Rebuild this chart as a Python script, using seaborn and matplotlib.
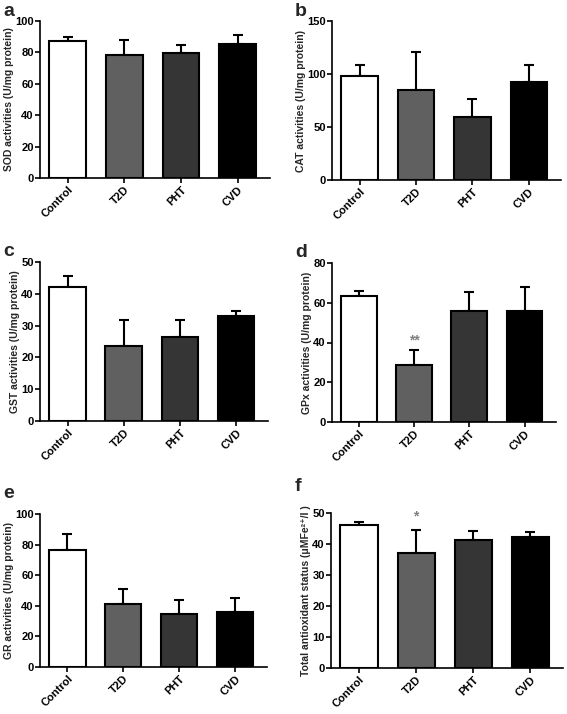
import matplotlib
matplotlib.use('Agg')
import matplotlib.pyplot as plt
import seaborn as sns
import numpy as np

groups = ['Control', 'T2D', 'PHT', 'CVD']
bar_colors = ['#ffffff', '#606060', '#353535', '#000000']

sod_mean = [87.1, 78.6, 79.3, 85.6]
sod_err = [2.7, 9.6, 5.5, 5.7]
cat_mean = [98.2, 85.3, 59.3, 92.6]
cat_err = [10.4, 35.2, 17.3, 16.3]
gst_mean = [42.0, 23.7, 26.5, 32.9]
gst_err = [3.6, 8.1, 5.2, 1.6]
gpx_mean = [63.6, 28.8, 55.8, 55.6]
gpx_err = [2.2, 7.3, 9.8, 12.5]
gr_mean = [76.6, 41.3, 34.9, 35.8]
gr_err = [10.1, 9.8, 9.0, 9.6]
tas_mean = [46.2, 37.0, 41.2, 42.4]
tas_err = [0.8, 7.6, 3.1, 1.4]

sns.set_theme(style='ticks')
plt.rcParams['font.family'] = ['Liberation Sans', 'DejaVu Sans']
plt.rcParams['font.weight'] = 'bold'

fig = plt.figure(figsize=(5.67, 7.14), dpi=100)
W, H = 567, 714

def make_ax(l, r, t, b):
    return fig.add_axes([l / W, 1 - b / H, (r - l) / W, (b - t) / H])

panels = [
    # letter, label, mean, err, ymax, step, box(l,r,t,b), letter pos, star
    ('a', 'SOD activities (U/mg protein)', sod_mean, sod_err, 100, 20, (40, 270, 21, 178), (3, 16), None),
    ('b', 'CAT activities (U/mg protein)', cat_mean, cat_err, 150, 50, (332, 561, 21, 180), (295, 16), None),
    ('c', 'GST activities (U/mg protein)', gst_mean, gst_err, 50, 10, (40, 268, 262, 421), (3, 256), None),
    ('d', 'GPx activities (U/mg protein)', gpx_mean, gpx_err, 80, 20, (332, 556, 263, 422), (295, 257), ('**', 41.0)),
    ('e', 'GR activities (U/mg protein)', gr_mean, gr_err, 100, 20, (40, 267, 514, 667), (3, 498), None),
    ('f', 'Total antioxidant status (\u03bcMFe\u00b2\u207a/l )', tas_mean, tas_err, 50, 10, (331, 563, 513, 668), (295, 491), ('*', 49.0)),
]

for letter, label, mean, err, ymax, step, box, lpos, star in panels:
    ax = make_ax(*box)
    sns.barplot(x=groups, y=mean, hue=groups, palette=bar_colors, edgecolor='black',
                linewidth=1.5, width=0.65, legend=False, ax=ax, zorder=2)
    ax.errorbar(np.arange(4), mean, yerr=[np.zeros(4), err], fmt='none', ecolor='black',
                elinewidth=1.5, capsize=3.5, capthick=1.5, zorder=1)
    ax.set_xlim(-0.49, 3.57)
    ax.set_ylim(0, ymax)
    ax.set_yticks(np.arange(0, ymax + 1, step))
    ax.set_ylabel(label, fontsize=7.5, fontweight='bold', labelpad=1)
    ax.set_xlabel('')
    for s in ['top', 'right']:
        ax.spines[s].set_visible(False)
    for s in ['left', 'bottom']:
        ax.spines[s].set_linewidth(1.2)
        ax.spines[s].set_color('black')
    ax.tick_params(axis='both', direction='out', length=3.5, width=1.2, colors='black',
                   labelsize=8, pad=1)
    plt.setp(ax.get_xticklabels(), rotation=45, ha='right', rotation_mode='anchor',
             fontweight='bold')
    plt.setp(ax.get_yticklabels(), fontweight='bold')
    if star is not None:
        ax.text(1, star[1], star[0], ha='center', va='center', color='#808080',
                fontsize=10, fontweight='bold')
    fig.text(lpos[0] / W, 1 - lpos[1] / H, letter, fontsize=14, fontweight='bold',
             ha='left', va='baseline')

fig.savefig('out.png', dpi=100)
